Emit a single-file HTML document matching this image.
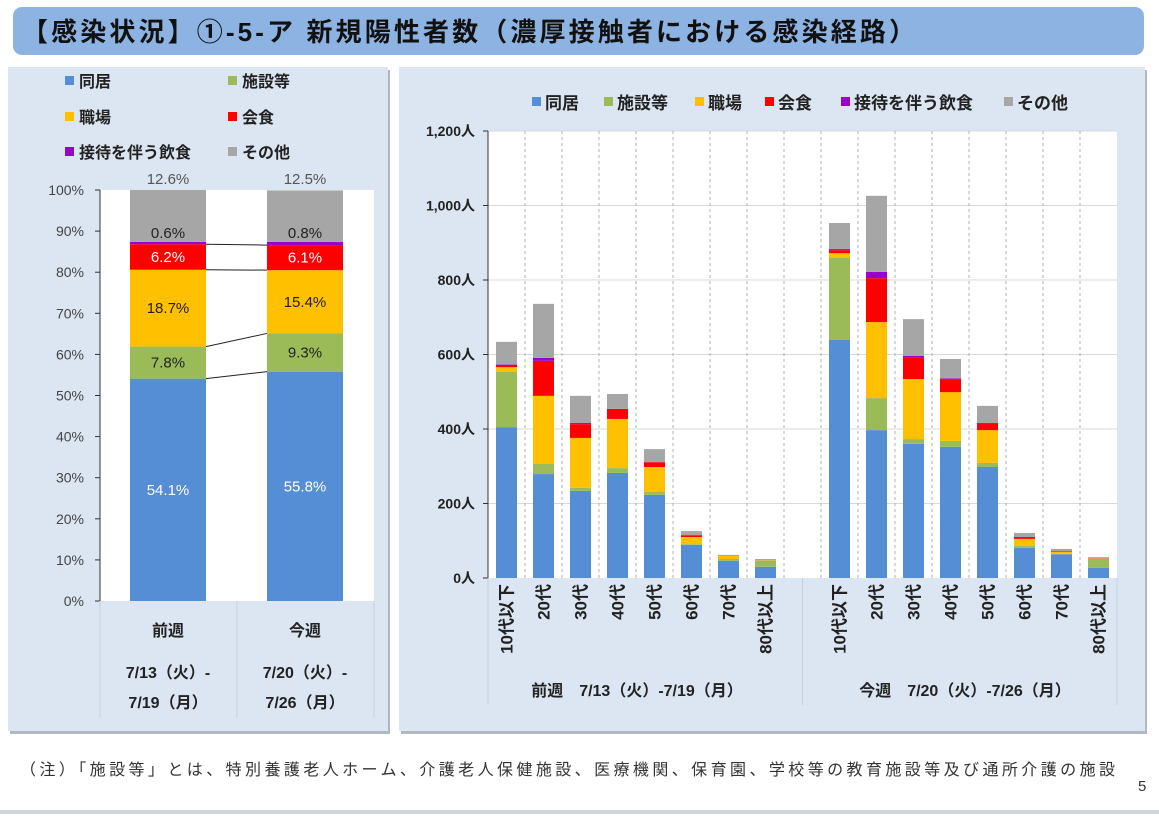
<!DOCTYPE html>
<html><head><meta charset="utf-8">
<style>
html,body{margin:0;padding:0;background:#fff;}
body{width:1159px;height:814px;position:relative;overflow:hidden;font-family:"Liberation Sans","Noto Sans CJK JP",sans-serif;}
svg text{font-family:"Liberation Sans","Noto Sans CJK JP",sans-serif;}
</style></head>
<body>
<svg id="svg" width="1159" height="814" xmlns="http://www.w3.org/2000/svg">
  <rect x="13" y="7" width="1131" height="48" rx="9" fill="#8db3e2"/>
  <text x="22" y="41" font-size="26" font-weight="bold" fill="#111" textLength="893" lengthAdjust="spacing">【感染状況】①-5-ア 新規陽性者数（濃厚接触者における感染経路）</text>
  <rect x="10" y="70" width="380" height="664" fill="#b0b8c4"/>
  <rect x="8" y="67" width="380" height="664" fill="#dce6f2"/>
  <rect x="401" y="70" width="746" height="664" fill="#b0b8c4"/>
  <rect x="399" y="67" width="746" height="664" fill="#dce6f2"/>
  <g id="left"></g>
  <g id="leftLabels"></g>
  <g id="right"></g>
  <text x="20" y="775" font-size="16" fill="#333" textLength="1095" lengthAdjust="spacing">（注）「施設等」とは、特別養護老人ホーム、介護老人保健施設、医療機関、保育園、学校等の教育施設等及び通所介護の施設</text>
  <text x="1138" y="791" font-size="15" fill="#333">5</text>
  <rect x="0" y="810" width="1159" height="4" fill="#d0d4da"/>
</svg>
<script>
const seriesNames=["同居","施設等","職場","会食","接待を伴う飲食","その他"];
const seriesColors=["#558ed5","#9bbb59","#ffc000","#ff0000","#9900cc","#a6a6a6"];
const weekNames=["前週","今週"];
const weekDates1=["7/13（火）-","7/20（火）-"];
const weekDates2=["7/19（月）","7/26（月）"];
const pctPrev=[54.1,7.8,18.7,6.2,0.6,12.6];
const pctCurr=[55.8,9.3,15.4,6.1,0.8,12.5];
const pctTicks=[0,10,20,30,40,50,60,70,80,90,100];
const ageCats=["10代以下","20代","30代","40代","50代","60代","70代","80代以上"];
const prevDohkyo=[405,279,234,282,223,89,46,30];
const prevShisetsu=[148,27,8,13,8,2,5,16];
const prevShokuba=[13,183,134,132,67,19,8,1];
const prevKaishoku=[6,94,37,27,13,5,0,0];
const prevSettai=[1,8,3,0,0,0,0,0];
const prevOther=[61,145,73,40,35,11,3,4];
const currDohkyo=[639,397,360,352,298,81,64,27];
const currShisetsu=[220,86,13,16,11,5,0,24];
const currShokuba=[13,204,161,131,88,19,6,1];
const currKaishoku=[8,118,57,35,19,5,2,1];
const currSettai=[3,17,5,2,0,0,0,0];
const currOther=[70,204,99,52,46,11,6,3];
const countTicks=[0,200,400,600,800,1000,1200];
const countTickLabels=["0人","200人","400人","600人","800人","1,000人","1,200人"];
const groupLabels=["前週　7/13（火）-7/19（月）","今週　7/20（火）-7/26（月）"];

const NS="http://www.w3.org/2000/svg";
function mk(parent,tag,attrs,txt){const e=document.createElementNS(NS,tag);for(const k in attrs)e.setAttribute(k,attrs[k]);if(txt!==undefined)e.textContent=txt;parent.appendChild(e);return e;}

// ---------- Left chart ----------
const L=document.getElementById('left');
const LL=document.getElementById('leftLabels');
const lx0=100,lx1=374,ly0=601,ly1=190;
const ly=v=>ly0-(ly0-ly1)*v/100;
let r=mk(L,'rect',{x:lx0,y:ly1,width:lx1-lx0,height:ly0-ly1,fill:'#fff'});

const legPos=[[65,86],[228,86],[65,122],[228,122],[65,157],[228,157]];
seriesNames.forEach((n,i)=>{
  const s=mk(L,'rect',{x:legPos[i][0],y:legPos[i][1]-10,width:9,height:9,fill:seriesColors[i]});
  
  const t=mk(L,'text',{x:legPos[i][0]+14,y:legPos[i][1]+1,'font-size':16,'font-weight':'bold',fill:'#222'},n);
  
});
pctTicks.forEach(v=>{
  const t=mk(L,'text',{x:84,y:ly(v)+5,'font-size':14,fill:'#444','text-anchor':'end'},v+'%');
  
  const k=mk(L,'line',{x1:lx0-5,x2:lx0,y1:ly(v),y2:ly(v),stroke:'#333'});
  
});
let ax=mk(L,'line',{x1:lx0,x2:lx0,y1:ly1,y2:ly0,stroke:'#333'});

const pcts=[pctPrev,pctCurr];
const bx=[130,267],bw=76;
const cums=[];
pcts.forEach((arr,b)=>{
  let c=0;const cs=[];
  arr.forEach((v,i)=>{
    const y0=ly(c),y1=ly(Math.min(100,c+v));
    const s=mk(L,'rect',{x:bx[b],y:y1,width:bw,height:Math.max(0,y0-y1),fill:seriesColors[i]});
    
    const white=(i===0||i===3);
    let ty=(y0+y1)/2+5;
    if(i===5) ty=184;
    if(i===4) ty=y1-4;
    const t=mk(LL,'text',{x:bx[b]+bw/2,y:ty,'font-size':15,fill:white?'#fff':(i===5?'#555':'#222'),'text-anchor':'middle'},v.toFixed(1)+'%');
    
    c+=v;cs.push(c);
  });
  cums.push(cs);
});
for(let i=0;i<4;i++){
  const l=mk(L,'line',{x1:bx[0]+bw,x2:bx[1],y1:ly(cums[0][i]),y2:ly(cums[1][i]),stroke:'#222','stroke-width':1});
  
}
[[100,601,100,718],[237,601,237,718],[374,601,374,718]].forEach(a=>{
  const l=mk(L,'line',{x1:a[0],y1:a[1],x2:a[2],y2:a[3],stroke:'#c8d2de'});
  
});
weekNames.forEach((w,i)=>{
  const cx=[168,305][i];
  let t=mk(L,'text',{x:cx,y:636,'font-size':16,'font-weight':'bold',fill:'#222','text-anchor':'middle'},w);
  
  t=mk(L,'text',{x:cx,y:678,'font-size':16,'font-weight':'bold',fill:'#222','text-anchor':'middle'},weekDates1[i]);
  
  t=mk(L,'text',{x:cx,y:708,'font-size':16,'font-weight':'bold',fill:'#222','text-anchor':'middle'},weekDates2[i]);
  
});

// ---------- Right chart ----------
const R=document.getElementById('right');
const rx0=488,rx1=1117,ry0=578,ry1=131;
const yScale=v=>ry0-(ry0-ry1)*v/1200;
const slot=(rx1-rx0)/17;
const slotX=i=>rx0+slot*i;
r=mk(R,'rect',{x:rx0,y:ry1,width:rx1-rx0,height:ry0-ry1,fill:'#fff'});

countTicks.forEach((v,i)=>{
  if(v>0){const g=mk(R,'line',{x1:rx0,x2:rx1,y1:yScale(v),y2:yScale(v),stroke:'#d9d9d9'});
  }
  const k=mk(R,'line',{x1:rx0-5,x2:rx0,y1:yScale(v),y2:yScale(v),stroke:'#333'});
  
  const t=mk(R,'text',{x:475,y:yScale(v)+5,'font-size':14,'font-weight':'bold',fill:'#222','text-anchor':'end'},countTickLabels[i]);
  
});
for(let i=1;i<17;i++){
  const d=mk(R,'line',{x1:slotX(i),x2:slotX(i),y1:ry1,y2:ry0,stroke:'#b0b0b0','stroke-dasharray':'3,3'});
  
}
ax=mk(R,'line',{x1:rx0,x2:rx0,y1:ry1,y2:ry0,stroke:'#333'});

const weeks=[[prevDohkyo,prevShisetsu,prevShokuba,prevKaishoku,prevSettai,prevOther],[currDohkyo,currShisetsu,currShokuba,currKaishoku,currSettai,currOther]];
weeks.forEach((ser,w)=>{
  ageCats.forEach((cat,ci)=>{
    const si=w*9+ci;const cx=slotX(si)+slot/2;
    let c=0;
    ser.forEach((arr,k)=>{
      const v=arr[ci];if(v<=0)return;
      const y0=yScale(c),y1=yScale(c+v);
      const s=mk(R,'rect',{x:cx-10.5,y:y1,width:21,height:y0-y1,fill:seriesColors[k]});
      
      c+=v;
    });
    const t=mk(R,'text',{x:0,y:0,'font-size':17,'font-weight':'bold',fill:'#222','text-anchor':'end',transform:`translate(${cx+6},584) rotate(-90)`},cat);
    
  });
  const g=mk(R,'text',{x:[637,965][w],y:696,'font-size':16,'font-weight':'bold',fill:'#222','text-anchor':'middle'},groupLabels[w]);
  
});
[rx0,slotX(8.5),rx1].forEach(x=>{
  const l=mk(R,'line',{x1:x,x2:x,y1:ry0,y2:705,stroke:'#c8d2de'});
  
});
const rlx=[532,604,695,765,841,1004];
seriesNames.forEach((n,i)=>{
  const s=mk(R,'rect',{x:rlx[i],y:97,width:9,height:9,fill:seriesColors[i]});
  
  const t=mk(R,'text',{x:rlx[i]+13,y:109,'font-size':17,'font-weight':'bold',fill:'#222'},n);
  
});
</script>
</body></html>
